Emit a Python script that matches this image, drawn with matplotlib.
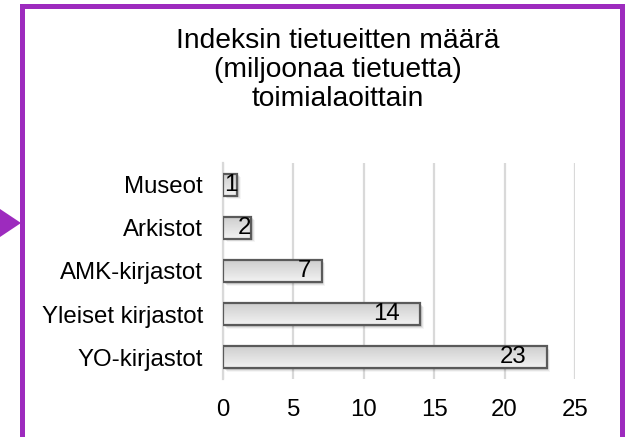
import matplotlib
matplotlib.use("Agg")
import matplotlib.pyplot as plt
import numpy as np
from matplotlib.patches import Rectangle, Polygon
import matplotlib.transforms as mtransforms

categories = ["YO-kirjastot", "Yleiset kirjastot", "AMK-kirjastot", "Arkistot", "Museot"]
values = [23, 14, 7, 2, 1]
xticks = [0, 5, 10, 15, 20, 25]
title = "Indeksin tietueitten määrä\n(miljoonaa tietuetta)\ntoimialaoittain"

plt.rcParams['font.family'] = ['Liberation Sans', 'DejaVu Sans']

W, H = 625, 437
fig = plt.figure(figsize=(W / 100, H / 100), dpi=100)
ax = fig.add_axes([223 / W, (H - 379) / H, 352 / W, 216 / H])

y = np.arange(len(categories))
bh = 0.51
bars = ax.barh(y, values, height=bh, color='none', edgecolor='#5a5a5a', linewidth=1.6, zorder=4)

# gradient fill and shadow per bar
grad = np.linspace(0.80, 0.95, 64).reshape(-1, 1)
for b in bars:
    x0, y0 = b.get_x(), b.get_y()
    w, h = b.get_width(), b.get_height()
    im = ax.imshow(grad, cmap='gray', vmin=0, vmax=1, aspect='auto',
                   extent=(x0, x0 + w, y0, y0 + h), origin='upper', zorder=3,
                   interpolation='bilinear')
    im.set_clip_path(b)
    for k, a in enumerate([0.10, 0.07, 0.04]):
        off = mtransforms.offset_copy(ax.transData, fig=fig, x=1.5 + k, y=-(1.5 + k), units='dots')
        sh = Rectangle((x0, y0), w, h, transform=off, facecolor='black', alpha=a,
                       edgecolor='none', zorder=2)
        ax.add_patch(sh)

ax.set_xlim(0, 25)
ax.set_ylim(-0.5, len(categories) - 0.5)
ax.set_xticks(xticks)
ax.set_yticks(y)
ax.set_yticklabels(categories)
ax.tick_params(axis='both', length=0, labelsize=17.3, colors='black')
ax.tick_params(axis='x', pad=14.5)
ax.tick_params(axis='y', pad=14.5)
ax.grid(axis='x', color='#d9d9d9', linewidth=1.6, zorder=0)
ax.set_axisbelow(True)
for s in ['top', 'right', 'bottom']:
    ax.spines[s].set_visible(False)
ax.spines['left'].set_color('#d9d9d9')
ax.spines['left'].set_linewidth(1.6)

px_per_unit = 352 / 25
for yi, v in zip(y, values):
    wpx = v * px_per_unit
    off = -min(20, max(0, 0.2 * wpx - 9))
    ax.annotate(str(v), xy=(v, yi), xytext=(off * 0.72, 0), textcoords='offset points',
                ha='right', va='center', fontsize=17.3, zorder=6)

fig.text(338 / W, 1 - 70 / H, title, ha='center', va='center',
         fontsize=20.3, linespacing=1.13)

# purple frame and arrow
purple = '#9d2bbe'
fig.patches.append(Rectangle((19.5 / W, 0), 5 / W, (H - 4) / H, transform=fig.transFigure,
                             facecolor=purple, edgecolor='none', zorder=10))
fig.patches.append(Rectangle((19.5 / W, (H - 9) / H), (W - 19.5) / W, 5 / H, transform=fig.transFigure,
                             facecolor=purple, edgecolor='none', zorder=10))
fig.patches.append(Rectangle((620 / W, 0), 5 / W, (H - 4) / H, transform=fig.transFigure,
                             facecolor=purple, edgecolor='none', zorder=10))
fig.patches.append(Polygon([(0, (H - 209) / H), (21 / W, (H - 223) / H), (0, (H - 237) / H)],
                           closed=True, transform=fig.transFigure, facecolor=purple,
                           edgecolor='none', zorder=10))

fig.savefig("out.png", dpi=100)
